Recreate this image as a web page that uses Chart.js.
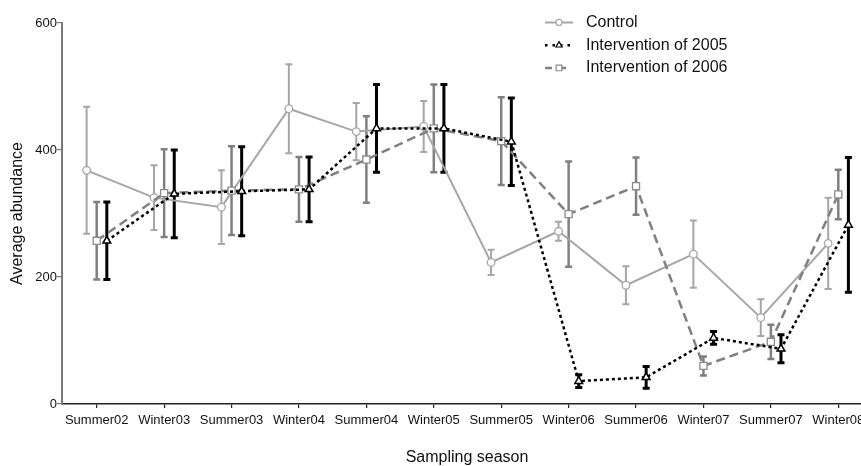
<!DOCTYPE html>
<html>
<head>
<meta charset="utf-8">
<script src="https://cdn.jsdelivr.net/npm/chart.js@4"></script>
<style>
    body { margin: 0; overflow: hidden; background: #fff; }
    #grafico { display: block; }
</style>
</head>
<body>
<canvas id="grafico" width="880" height="466"></canvas>
<script>
const estacoes = ['Summer02', 'Winter03', 'Summer03', 'Winter04', 'Summer04', 'Winter05',
    'Summer05', 'Winter06', 'Summer06', 'Winter07', 'Summer07', 'Winter08'];
const ticksY = [0, 200, 400, 600];

const controle = [368, 325, 310, 465, 429, 437, 223, 272, 187, 236, 136, 253];
const erroControle = [100, 51, 58, 70, 45, 40, 20, 15, 30, 53, 29, 72];

const intervencao2005 = [257, 331, 335, 338, 434, 434, 413, 36, 42, 104, 87, 282];
const erro2005 = [61, 69, 70, 51, 69, 69, 69, 10, 17, 10, 22, 106];

const intervencao2006 = [257, 332, 336, 338, 385, 434, 414, 299, 343, 60, 98, 330];
const erro2006 = [61, 69, 70, 51, 68, 69, 69, 83, 45, 15, 27, 39];

// deslocamento lateral de cada série em relação ao tick da estação
const DESLOC = 0.15;
const FONTE = '"Liberation Sans", Arial, sans-serif';

function pontos(valores, desloc) {
    return valores.map((v, i) => ({ x: i + desloc, y: v }));
}

// barras de erro desenhadas pelas escalas do próprio gráfico
const barrasErro = {
    id: 'barrasErro',
    beforeDatasetsDraw(chart) {
        const ctx = chart.ctx;
        const x = chart.scales.x;
        const y = chart.scales.y;
        chart.data.datasets.forEach(ds => {
            ctx.save();
            ctx.strokeStyle = ds.corErro;
            ctx.lineWidth = ds.larguraErro;
            ds.data.forEach((p, j) => {
                const e = ds.erros[j];
                const px = x.getPixelForValue(p.x);
                const topo = y.getPixelForValue(p.y + e);
                const base = y.getPixelForValue(p.y - e);
                ctx.beginPath();
                ctx.moveTo(px, topo);
                ctx.lineTo(px, base);
                ctx.moveTo(px - 3.5, topo);
                ctx.lineTo(px + 3.5, topo);
                ctx.moveTo(px - 3.5, base);
                ctx.lineTo(px + 3.5, base);
                ctx.stroke();
            });
            ctx.restore();
        });
    }
};

// legenda no canto superior direito com a linha e o marcador de cada série
const legendaLinhas = {
    id: 'legendaLinhas',
    afterDraw(chart) {
        const ctx = chart.ctx;
        const itens = [chart.data.datasets[2], chart.data.datasets[0], chart.data.datasets[1]];
        itens.forEach((ds, i) => {
            const yy = 22.5 + i * 22.7;
            ctx.save();
            ctx.strokeStyle = ds.borderColor;
            ctx.lineWidth = ds.borderWidth;
            ctx.setLineDash(ds.legendaDash || ds.borderDash || []);
            ctx.beginPath();
            ctx.moveTo(545, yy);
            ctx.lineTo(573, yy);
            ctx.stroke();
            ctx.setLineDash([]);
            ctx.fillStyle = '#fff';
            ctx.strokeStyle = ds.pointBorderColor;
            ctx.lineWidth = 1.2;
            Chart.helpers.drawPoint(ctx, {
                pointStyle: ds.pointStyle,
                radius: ds.pointRadius * 0.8,
                borderWidth: 1.2,
                rotation: 0
            }, 559, yy);
            ctx.fillStyle = '#111';
            ctx.font = `16px ${FONTE}`;
            ctx.textBaseline = 'middle';
            ctx.fillText(ds.label, 586, yy);
            ctx.restore();
        });
    }
};

new Chart(document.getElementById('grafico'), {
    type: 'line',
    data: {
        datasets: [{
            label: 'Intervention of 2005',
            data: pontos(intervencao2005, DESLOC),
            erros: erro2005,
            corErro: '#000',
            larguraErro: 3,
            borderColor: '#000',
            borderWidth: 2.5,
            borderDash: [3, 3],
            legendaDash: [2.5, 5],
            pointStyle: 'triangle',
            pointRadius: 4.5,
            pointBorderWidth: 1.5,
            pointBackgroundColor: '#fff',
            pointBorderColor: '#000',
            order: 1
        }, {
            label: 'Intervention of 2006',
            data: pontos(intervencao2006, 0),
            erros: erro2006,
            corErro: '#808080',
            larguraErro: 2.5,
            borderColor: '#808080',
            borderWidth: 2.5,
            borderDash: [9, 5],
            legendaDash: [7, 7],
            pointStyle: 'rect',
            pointRadius: 5,
            pointBorderWidth: 1.3,
            pointBackgroundColor: '#fff',
            pointBorderColor: '#8a8a8a',
            order: 2
        }, {
            label: 'Control',
            data: pontos(controle, -DESLOC),
            erros: erroControle,
            corErro: '#a6a6a6',
            larguraErro: 2,
            borderColor: '#a6a6a6',
            borderWidth: 2,
            pointStyle: 'circle',
            pointRadius: 3.8,
            pointBorderWidth: 1.3,
            pointBackgroundColor: '#fff',
            pointBorderColor: '#a6a6a6',
            order: 3
        }]
    },
    options: {
        responsive: false,
        animation: false,
        tension: 0,
        layout: { padding: { top: 23, right: 8, left: 0, bottom: 0 } },
        scales: {
            x: {
                type: 'linear',
                min: -0.515,
                max: 11.5,
                afterFit: (s) => { s.height = 62; },
                afterBuildTicks: (s) => { s.ticks = estacoes.map((_, i) => ({ value: i })); },
                grid: { drawOnChartArea: false, drawTicks: true, tickLength: 4, tickColor: '#222', lineWidth: 1.2 },
                border: { color: '#222', width: 1.5 },
                ticks: {
                    autoSkip: false,
                    maxRotation: 0,
                    padding: 5,
                    color: '#111',
                    font: { family: FONTE, size: 13 },
                    callback: (v) => estacoes[v]
                },
                title: {
                    display: true,
                    text: 'Sampling season',
                    color: '#111',
                    padding: 0,
                    font: { family: FONTE, size: 16, lineHeight: 1 }
                }
            },
            y: {
                min: 0,
                max: 600,
                afterFit: (s) => { s.width = 62; },
                afterBuildTicks: (s) => { s.ticks = ticksY.map(v => ({ value: v })); },
                grid: { drawOnChartArea: false, drawTicks: true, tickLength: 5, tickColor: '#7a7a7a', lineWidth: 1.2 },
                border: { color: '#7a7a7a', width: 2 },
                ticks: {
                    padding: 0,
                    color: '#111',
                    font: { family: FONTE, size: 13 }
                },
                title: {
                    display: true,
                    text: 'Average abundance',
                    color: '#111',
                    padding: { top: 10, bottom: 0 },
                    font: { family: FONTE, size: 16, lineHeight: 1 }
                }
            }
        },
        plugins: {
            legend: { display: false },
            tooltip: { enabled: false }
        }
    },
    plugins: [barrasErro, legendaLinhas]
});
</script>
</body>
</html>
